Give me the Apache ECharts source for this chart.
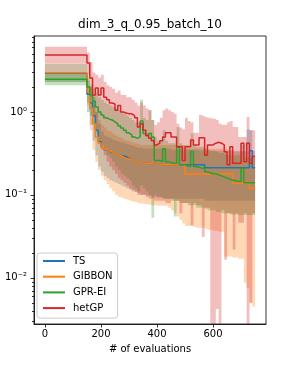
<!DOCTYPE html>
<html><head><meta charset="utf-8">
<script src="https://cdn.jsdelivr.net/npm/echarts@6/dist/echarts.min.js"></script>
<style>html,body{margin:0;padding:0;background:#fff}#c{width:287px;height:365px}</style>
</head><body><div id="c"></div>
<script>
// ---- data ----
const evals = [0,150,160,170,180,190,200,210,220,230,240,250,260,270,280,290,300,310,320,330,340,350,360,370,380,390,400,410,420,430,440,450,460,470,480,490,500,510,520,530,540,550,560,570,580,590,600,610,620,630,640,650,660,670,680,690,700,710,720,730,740,750];

const tsMean = [2.9,
 1.63,1.29,0.9,0.6,0.44,0.38,0.35,0.34,0.325,0.315,
 0.305,0.3,0.295,0.29,0.275,0.265,0.256,0.25,0.245,0.242,
 0.24,0.24,0.238,0.236,0.235,0.235,0.233,0.232,0.23,0.23,
 0.23,0.23,0.23,0.23,0.23,0.23,0.23,0.23,0.23,0.23,
 0.23,0.23,0.213,0.213,0.213,0.213,0.213,0.213,0.213,0.213,
 0.213,0.213,0.213,0.213,0.213,0.213,0.213,0.213,0.34,0.213,
 0.213];
const tsLo = [2.3,
 1.0,0.7,0.45,0.3,0.22,0.19,0.17,0.16,0.15,0.145,
 0.14,0.135,0.13,0.125,0.12,0.115,0.11,0.108,0.105,0.1,
 0.1,0.098,0.096,0.095,0.094,0.093,0.092,0.091,0.09,0.09,
 0.09,0.09,0.09,0.09,0.09,0.09,0.09,0.09,0.09,0.09,
 0.09,0.09,0.085,0.085,0.085,0.085,0.085,0.085,0.085,0.085,
 0.085,0.085,0.085,0.085,0.085,0.085,0.085,0.085,0.085,0.085,
 0.085];
const tsHi = [3.8,
 2.6,2.0,1.5,1.0,0.72,0.58,0.52,0.5,0.48,0.46,
 0.45,0.44,0.43,0.42,0.41,0.4,0.39,0.38,0.37,0.37,
 0.36,0.36,0.36,0.36,0.36,0.36,0.36,0.36,0.36,0.36,
 0.35,0.35,0.35,0.35,0.35,0.35,0.35,0.35,0.35,0.35,
 0.34,0.34,0.34,0.34,0.34,0.34,0.34,0.34,0.34,0.34,
 0.34,0.34,0.34,0.34,0.34,0.34,0.34,0.62,0.6,0.34,
 0.34];

const gbMean = [2.97,
 1.75,1.1,0.72,0.5,0.42,0.38,0.355,0.34,0.33,0.315,
 0.305,0.3,0.285,0.275,0.27,0.265,0.258,0.25,0.245,0.242,
 0.24,0.24,0.238,0.236,0.235,0.235,0.233,0.232,0.23,0.23,
 0.23,0.23,0.23,0.23,0.23,0.178,0.178,0.178,0.178,0.178,
 0.178,0.178,0.178,0.178,0.178,0.178,0.178,0.178,0.178,0.178,
 0.178,0.178,0.138,0.138,0.138,0.138,0.138,0.138,0.119,0.119,
 0.119];
const gbLo = [2.3,
 1.2,0.6,0.35,0.25,0.2,0.17,0.15,0.135,0.12,0.11,
 0.1,0.095,0.093,0.09,0.088,0.085,0.083,0.082,0.08,0.079,
 0.078,0.077,0.076,0.075,0.075,0.074,0.074,0.074,0.074,0.07,
 0.065,0.06,0.055,0.05,0.045,0.042,0.042,0.042,0.041,0.04,
 0.04,0.04,0.039,0.038,0.038,0.037,0.037,0.036,0.036,0.018,
 0.018,0.018,0.0175,0.0175,0.017,0.017,0.0087,0.0075,0.005,0.0045,
 0.0045];
const gbHi = [3.9,
 2.8,2.0,1.4,1.0,0.8,0.7,0.65,0.6,0.58,0.55,
 0.52,0.5,0.48,0.46,0.45,0.44,0.43,0.42,0.41,0.4,
 0.4,0.4,0.4,0.4,0.4,0.4,0.4,0.4,0.4,0.4,
 0.4,0.4,0.4,0.4,0.4,0.36,0.36,0.36,0.36,0.36,
 0.36,0.36,0.36,0.36,0.36,0.36,0.36,0.36,0.36,0.36,
 0.35,0.35,0.33,0.33,0.33,0.33,0.33,0.33,0.3,0.3,
 0.3];

const gpMean = [2.48,
 2.0,1.6,1.35,1.15,1.0,0.92,0.85,0.82,0.8,0.76,
 0.72,0.68,0.64,0.6,0.56,0.53,0.5,0.48,0.5,0.78,
 0.55,0.52,0.55,0.5,0.26,0.26,0.25,0.36,0.25,0.245,
 0.24,0.24,0.38,0.23,0.23,0.225,0.22,0.33,0.22,0.215,
 0.21,0.21,0.19,0.185,0.18,0.18,0.175,0.17,0.165,0.16,
 0.155,0.15,0.148,0.146,0.145,0.21,0.14,0.14,0.14,0.14,
 0.14];
const gpLo = [2.1,
 1.3,0.9,0.7,0.55,0.45,0.4,0.35,0.3,0.28,0.25,
 0.22,0.2,0.18,0.17,0.16,0.15,0.13,0.12,0.11,0.13,
 0.12,0.11,0.1,0.053,0.1,0.095,0.095,0.09,0.09,0.09,
 0.085,0.055,0.085,0.08,0.08,0.08,0.075,0.075,0.075,0.07,
 0.07,0.07,0.068,0.065,0.065,0.065,0.062,0.062,0.06,0.06,
 0.06,0.058,0.058,0.058,0.057,0.057,0.057,0.057,0.057,0.057,
 0.057];
const gpHi = [2.8,
 2.4,2.1,1.9,1.7,1.5,1.4,1.3,1.25,1.2,1.15,
 1.1,1.05,1.0,0.95,0.9,0.85,0.8,0.75,0.75,1.4,
 0.85,0.8,1.05,0.8,0.5,0.45,0.45,0.6,0.45,0.42,
 0.42,0.42,0.66,0.42,0.4,0.4,0.4,0.55,0.4,0.38,
 0.38,0.38,0.36,0.35,0.34,0.34,0.33,0.32,0.32,0.31,
 0.3,0.3,0.3,0.3,0.3,0.4,0.28,0.28,0.28,0.28,
 0.28];

const hgMean = [4.86,
 3.9,2.56,1.6,1.95,1.6,1.95,1.5,1.4,1.28,1.25,
 1.05,1.2,1.0,0.97,0.95,0.95,0.9,0.85,0.66,0.72,
 0.6,0.52,0.48,0.45,0.4,0.42,0.45,0.5,0.56,0.56,
 0.5,0.5,0.38,0.38,0.26,0.38,0.38,0.46,0.4,0.4,
 0.49,0.49,0.3,0.4,0.4,0.42,0.43,0.42,0.4,0.33,
 0.23,0.38,0.24,0.24,0.24,0.42,0.25,0.42,0.24,0.29,
 0.29];
const hgLo = [3.9,
 2.8,1.5,0.9,0.6,0.45,0.35,0.3,0.25,0.22,0.2,
 0.18,0.16,0.15,0.14,0.13,0.12,0.115,0.11,0.1,0.1,
 0.1,0.095,0.09,0.09,0.085,0.085,0.085,0.085,0.08,0.08,
 0.09,0.085,0.085,0.06,0.08,0.08,0.08,0.043,0.08,0.075,
 0.075,0.031,0.07,0.07,0.0025,0.0025,0.0042,0.0025,0.065,0.0165,
 0.06,0.06,0.022,0.06,0.046,0.046,0.06,0.0025,0.005,0.06,
 0.06];
const hgHi = [6.1,
 5.2,4.0,3.0,2.8,2.6,2.8,2.3,2.1,2.0,1.9,
 1.7,1.8,1.6,1.6,1.5,1.5,1.4,1.3,1.2,1.3,
 1.2,1.1,1.05,0.8,0.7,0.75,0.85,1.05,1.1,1.05,
 1.0,0.95,0.72,0.65,0.62,0.85,0.78,0.75,0.56,0.56,
 0.92,0.9,0.87,0.85,0.84,0.83,0.8,0.72,0.7,0.7,
 0.75,0.78,0.66,0.66,0.5,0.5,0.5,0.87,0.6,0.6,
 0.6];

const seriesNames = ['TS','GIBBON','GPR-EI','hetGP'];
const colors = ['#1f77b4','#ff7f0e','#2ca02c','#d62728'];
const xTicks = [0,200,400,600];
const yTicks = [0.01,0.1,1];
const yTickLabels = ['10\u207B\u00B2','10\u207B\u00B9','10\u2070'];
const yMinorTicks = [0.003,0.004,0.005,0.006,0.007,0.008,0.009,
  0.02,0.03,0.04,0.05,0.06,0.07,0.08,0.09,
  0.2,0.3,0.4,0.5,0.6,0.7,0.8,0.9,
  2,3,4,5,6,7,8];

// ---- chart ----
const FONT = 'DejaVu Sans';
const means = [tsMean, gbMean, gpMean, hgMean];
const los = [tsLo, gbLo, gpLo, hgLo];
const his = [tsHi, gbHi, gpHi, hgHi];

function bandSeries(idx){
  const lo = los[idx], hi = his[idx];
  const data = evals.map((x,k)=>[x, lo[k], hi[k]]);
  return {
    type:'custom', name: seriesNames[idx]+' band', silent:true, clip:true, z:1,
    data: [0],
    renderItem(params, api){
      if (params.dataIndex !== 0) return;
      const cs = params.coordSys;
      const bottom = cs.y + cs.height, top = cs.y;
      const cl = y => Math.max(top, Math.min(bottom, y));
      const up = [], dn = [];
      for (let k=0;k<data.length-1;k++){
        const a = api.coord([data[k][0], data[k][2]]);
        const b = api.coord([data[k+1][0], data[k][2]]);
        up.push([a[0], cl(a[1])],[b[0], cl(b[1])]);
        const c = api.coord([data[k][0], data[k][1]]);
        const d = api.coord([data[k+1][0], data[k][1]]);
        dn.push([c[0], cl(c[1])],[d[0], cl(d[1])]);
      }
      const pts = up.concat(dn.reverse());
      return {type:'polygon', shape:{points:pts}, style:{fill:colors[idx], opacity:0.3}};
    }
  };
}
function lineSeries(idx){
  return {
    type:'line', name: seriesNames[idx], step:'end', showSymbol:false, symbol:'none',
    data: evals.map((x,k)=>[x, means[idx][k]]),
    lineStyle:{color:colors[idx], width:1.5}, itemStyle:{color:colors[idx]},
    z:3, clip:true, animation:false
  };
}
const minorSeries = {
  type:'custom', name:'minor', silent:true, z:5, clip:false,
  data: yMinorTicks.map(v=>[-39, v]),
  renderItem(params, api){
    const cs = params.coordSys;
    const p = api.coord([api.value(0), api.value(1)]);
    return {type:'line', shape:{x1:cs.x, y1:Math.round(p[1])+0.5, x2:cs.x-2, y2:Math.round(p[1])+0.5}, style:{stroke:'#000', lineWidth:0.8}};
  }
};

const chart = echarts.init(document.getElementById('c'), null, {renderer:'canvas'});
chart.setOption({
  animation:false,
  backgroundColor:'#fff',
  textStyle:{fontFamily:FONT},
  grid:{left:34, right:21, top:36, bottom:41, show:true, borderColor:'#000', borderWidth:0.8, backgroundColor:'transparent'},
  graphic:[{type:'text', x:150, y:25, style:{text:'dim_3_q_0.95_batch_10', textAlign:'center', textVerticalAlign:'middle', font:'12px "DejaVu Sans"', fill:'#000'}}],
  legend:{
    data: seriesNames, orient:'vertical', left:37, top:253,
    icon:'path://M0,0 L22,0 L22,2 L0,2 Z', itemWidth:22, itemHeight:2, itemGap:3.7,
    padding:[2,5,4,6],
    backgroundColor:'rgba(255,255,255,0.8)', borderColor:'#cccccc', borderWidth:1, borderRadius:3,
    textStyle:{fontSize:10, color:'#000', fontFamily:FONT, lineHeight:12, padding:[0,0,0,3]}
  },
  xAxis:{
    type:'value', min:-39, max:789,
    name:'# of evaluations', nameLocation:'middle', nameGap:20,
    nameTextStyle:{fontSize:10, color:'#000', fontFamily:FONT},
    axisLine:{show:true, onZero:false, lineStyle:{color:'#000', width:0.8}},
    axisTick:{show:true, length:3.5, lineStyle:{color:'#000', width:0.8}, customValues:xTicks},
    axisLabel:{fontSize:10, color:'#000', fontFamily:FONT, margin:5, customValues:xTicks},
    splitLine:{show:false}
  },
  yAxis:{
    type:'log', logBase:10, min:0.00277, max:8.24,
    axisLine:{show:true, onZero:false, lineStyle:{color:'#000', width:0.8}},
    axisTick:{show:true, length:3.5, lineStyle:{color:'#000', width:0.8}, customValues:yTicks},
    axisLabel:{fontSize:10, color:'#000', fontFamily:FONT, margin:7, customValues:yTicks,
      formatter:(v)=>{ const i = yTicks.findIndex(t=>Math.abs(Math.log10(t)-Math.log10(v))<1e-6); return i>=0 ? yTickLabels[i] : ''; }},
    splitLine:{show:false}, minorTick:{show:false}
  },
  series:[bandSeries(0),bandSeries(1),bandSeries(2),bandSeries(3),
          lineSeries(0),lineSeries(1),lineSeries(2),lineSeries(3), minorSeries]
});
</script></body></html>
